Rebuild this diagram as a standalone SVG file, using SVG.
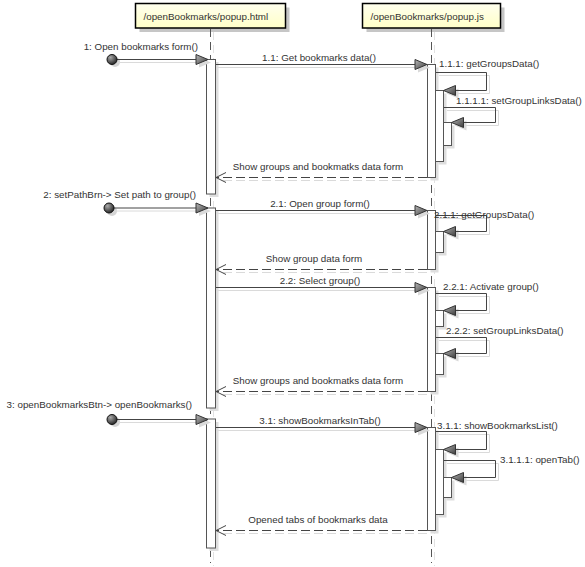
<svg xmlns="http://www.w3.org/2000/svg" xmlns:xlink="http://www.w3.org/1999/xlink" width="585" height="567" viewBox="0 0 585 567">
<style>
.lbl{font-family:"Liberation Sans",Arial,sans-serif;font-size:9.8px;fill:#333}
.mid{text-anchor:middle}
.end{text-anchor:end}
.msg{stroke:#444;stroke-width:1;fill:none}
.ret{stroke:#444;stroke-width:1;fill:none;stroke-dasharray:9,4}
.sh{stroke:#dadada;stroke-width:1;fill:none}
.shr{stroke:#dadada;stroke-width:1;fill:none;stroke-dasharray:9,4}
.bar{fill:#fff;stroke:#555;stroke-width:1}
.barsh{fill:#dedede;stroke:none}
.life{stroke:#555;stroke-width:1;stroke-dasharray:8,5;fill:none}
.lifesh{stroke:#e2e2e2;stroke-width:1;stroke-dasharray:8,5;fill:none}
.head{fill:url(#gY);stroke:#000;stroke-width:1.5}
.headsh{fill:#c6c6c6}
.tri{fill:url(#gA);stroke:#333;stroke-width:1}
.trish{fill:#dadada;stroke:none}
.open{fill:none;stroke:#444;stroke-width:1}
.dot{fill:url(#gD);stroke:#111;stroke-width:1}
.dotsh{fill:#d5d5d5}
</style>
<defs>
<linearGradient id="gY" x1="0" y1="0" x2="0" y2="1">
<stop offset="0" stop-color="#ffffee"/>
<stop offset="1" stop-color="#ffffc8"/>
</linearGradient>
<linearGradient id="gA" x1="0" y1="0" x2="1" y2="1">
<stop offset="0" stop-color="#b8b8b8"/>
<stop offset="1" stop-color="#3c3c3c"/>
</linearGradient>
<radialGradient id="gD" cx="0.35" cy="0.3" r="0.7">
<stop offset="0" stop-color="#aaaaaa"/>
<stop offset="1" stop-color="#2a2a2a"/>
</radialGradient>
<path id="aR" d="M0,0 L-12,-5 L-12,5 Z"/>
<path id="aL" d="M0,0 L12,-5 L12,5 Z"/>
<path id="oL" d="M10,-5 L0,0 L10,5"/>
</defs>
<rect width="585" height="567" fill="#fff"/>

<g id="node-popup-html">
<rect class="headsh" x="139.5" y="7.5" width="150" height="24.5"/>
<rect class="head" x="135.5" y="3.5" width="150" height="24.5"/>
<text class="lbl" x="143.5" y="19.5">/openBookmarks/popup.html</text>
<line class="lifesh" x1="213.5" y1="32" x2="213.5" y2="566"/>
<line class="life" x1="210.5" y1="29" x2="210.5" y2="563"/>
<rect class="barsh" x="209.5" y="62" width="9" height="135"/>
<rect class="bar" x="206.5" y="59.5" width="9" height="134.5"/>
<rect class="barsh" x="209.5" y="211" width="9" height="200"/>
<rect class="bar" x="206.5" y="208" width="9" height="200"/>
<rect class="barsh" x="209.5" y="422" width="9" height="129"/>
<rect class="bar" x="206.5" y="419" width="9" height="129"/>
</g>

<g id="node-popup-js">
<rect class="headsh" x="366.5" y="7.5" width="138" height="24.5"/>
<rect class="head" x="362.5" y="3.5" width="138" height="24.5"/>
<text class="lbl" x="370.5" y="19.5">/openBookmarks/popup.js</text>
<line class="lifesh" x1="434.5" y1="32" x2="434.5" y2="566"/>
<line class="life" x1="431.5" y1="29" x2="431.5" y2="563"/>
<rect class="barsh" x="430.5" y="67.5" width="8" height="113"/>
<rect class="bar" x="427.5" y="64.5" width="8" height="113"/>
<rect class="barsh" x="438.5" y="93.5" width="8" height="71"/>
<rect class="bar" x="435.5" y="90.5" width="8" height="71"/>
<rect class="barsh" x="446.5" y="125.5" width="8" height="23"/>
<rect class="bar" x="443.5" y="122.5" width="8" height="23"/>
<rect class="barsh" x="430.5" y="213.5" width="8" height="59"/>
<rect class="bar" x="427.5" y="210.5" width="8" height="59"/>
<rect class="barsh" x="438.5" y="234.5" width="8" height="21"/>
<rect class="bar" x="435.5" y="231.5" width="8" height="21"/>
<rect class="barsh" x="430.5" y="290.5" width="8" height="104"/>
<rect class="bar" x="427.5" y="287.5" width="8" height="104"/>
<rect class="barsh" x="438.5" y="313.5" width="8" height="16"/>
<rect class="bar" x="435.5" y="310.5" width="8" height="16"/>
<rect class="barsh" x="438.5" y="356.5" width="8" height="21"/>
<rect class="bar" x="435.5" y="353.5" width="8" height="21"/>
<rect class="barsh" x="430.5" y="430.5" width="8" height="103"/>
<rect class="bar" x="427.5" y="427.5" width="8" height="103"/>
<rect class="barsh" x="438.5" y="452.5" width="8" height="65"/>
<rect class="bar" x="435.5" y="449.5" width="8" height="65"/>
<rect class="barsh" x="446.5" y="480.5" width="8" height="20"/>
<rect class="bar" x="443.5" y="477.5" width="8" height="20"/>
</g>

<g id="connectors">
<g id="msg-1">
<circle class="dotsh" cx="115" cy="62" r="5"/>
<line class="sh" x1="117" y1="62.5" x2="196" y2="62.5"/>
<use href="#aR" class="trish" x="211" y="62.5"/>
<line class="msg" x1="112" y1="59.5" x2="196" y2="59.5"/>
<circle class="dot" cx="112" cy="59.5" r="5"/>
<use href="#aR" class="tri" x="208" y="59.5"/>
<text class="lbl end" x="198" y="50">1: Open bookmarks form()</text>
</g>
<g id="msg-1.1">
<line class="sh" x1="216" y1="67.5" x2="420" y2="67.5"/>
<use href="#aR" class="trish" x="430" y="67.5"/>
<line class="msg" x1="216" y1="64.5" x2="416" y2="64.5"/>
<use href="#aR" class="tri" x="427" y="64.5"/>
<text class="lbl mid" x="319" y="61">1.1: Get bookmarks data()</text>
</g>
<g id="msg-1.1.1">
<polyline class="sh" points="439,75.5 489.5,75.5 489.5,93.5 458,93.5"/>
<use href="#aL" class="trish" x="446.5" y="93.5"/>
<polyline class="msg" points="436,72.5 486.5,72.5 486.5,90.5 455.5,90.5"/>
<use href="#aL" class="tri" x="443.5" y="90.5"/>
<text class="lbl" x="439" y="67">1.1.1: getGroupsData()</text>
</g>
<g id="msg-1.1.1.1">
<polyline class="sh" points="447,110.5 498.5,110.5 498.5,125.5 466,125.5"/>
<use href="#aL" class="trish" x="454.5" y="125.5"/>
<polyline class="msg" points="444,107.5 495.5,107.5 495.5,122.5 463.5,122.5"/>
<use href="#aL" class="tri" x="451.5" y="122.5"/>
<text class="lbl" x="456" y="104">1.1.1.1: setGroupLinksData()</text>
</g>
<g id="ret-1">
<line class="shr" x1="427" y1="180.5" x2="219" y2="180.5"/>
<line class="ret" x1="427" y1="177.5" x2="216" y2="177.5"/>
<use href="#oL" class="open" x="216" y="177.5"/>
<text class="lbl mid" x="318" y="170">Show groups and bookmatks data form</text>
</g>

<g id="msg-2">
<circle class="dotsh" cx="112" cy="211" r="5"/>
<line class="sh" x1="114" y1="211" x2="196" y2="211"/>
<use href="#aR" class="trish" x="211" y="211"/>
<line class="msg" x1="109" y1="208" x2="196" y2="208"/>
<circle class="dot" cx="109" cy="208" r="5"/>
<use href="#aR" class="tri" x="208" y="208"/>
<text class="lbl end" x="196" y="198">2: setPathBrn-&gt; Set path to group()</text>
</g>
<g id="msg-2.1">
<line class="sh" x1="216" y1="213.5" x2="420" y2="213.5"/>
<use href="#aR" class="trish" x="430" y="213.5"/>
<line class="msg" x1="216" y1="210.5" x2="416" y2="210.5"/>
<use href="#aR" class="tri" x="427" y="210.5"/>
<text class="lbl mid" x="320" y="207">2.1: Open group form()</text>
</g>
<g id="msg-2.1.1">
<polyline class="sh" points="439,218.5 489.5,218.5 489.5,234.5 458,234.5"/>
<use href="#aL" class="trish" x="446.5" y="234.5"/>
<polyline class="msg" points="436,215.5 486.5,215.5 486.5,231.5 455.5,231.5"/>
<use href="#aL" class="tri" x="443.5" y="231.5"/>
<text class="lbl" x="434" y="218">2.1.1: getGroupsData()</text>
</g>
<g id="ret-2">
<line class="shr" x1="427" y1="272.5" x2="219" y2="272.5"/>
<line class="ret" x1="427" y1="269.5" x2="216" y2="269.5"/>
<use href="#oL" class="open" x="216" y="269.5"/>
<text class="lbl mid" x="314" y="262">Show group data form</text>
</g>
<g id="msg-2.2">
<line class="sh" x1="216" y1="290.5" x2="420" y2="290.5"/>
<use href="#aR" class="trish" x="430" y="290.5"/>
<line class="msg" x1="216" y1="287.5" x2="416" y2="287.5"/>
<use href="#aR" class="tri" x="427" y="287.5"/>
<text class="lbl mid" x="320" y="284">2.2: Select group()</text>
</g>
<g id="msg-2.2.1">
<polyline class="sh" points="439,296.5 489.5,296.5 489.5,313.5 458,313.5"/>
<use href="#aL" class="trish" x="446.5" y="313.5"/>
<polyline class="msg" points="436,293.5 486.5,293.5 486.5,310.5 455.5,310.5"/>
<use href="#aL" class="tri" x="443.5" y="310.5"/>
<text class="lbl" x="443" y="290">2.2.1: Activate group()</text>
</g>
<g id="msg-2.2.2">
<polyline class="sh" points="439,340.5 489.5,340.5 489.5,356.5 458,356.5"/>
<use href="#aL" class="trish" x="446.5" y="356.5"/>
<polyline class="msg" points="436,337.5 486.5,337.5 486.5,353.5 455.5,353.5"/>
<use href="#aL" class="tri" x="443.5" y="353.5"/>
<text class="lbl" x="446" y="334">2.2.2: setGroupLinksData()</text>
</g>
<g id="ret-3">
<line class="shr" x1="427" y1="394.5" x2="219" y2="394.5"/>
<line class="ret" x1="427" y1="391.5" x2="216" y2="391.5"/>
<use href="#oL" class="open" x="216" y="391.5"/>
<text class="lbl mid" x="318" y="384">Show groups and bookmatks data form</text>
</g>

<g id="msg-3">
<circle class="dotsh" cx="115" cy="422" r="5"/>
<line class="sh" x1="117" y1="422.5" x2="196" y2="422.5"/>
<use href="#aR" class="trish" x="211" y="422.5"/>
<line class="msg" x1="112" y1="419.5" x2="196" y2="419.5"/>
<circle class="dot" cx="112" cy="419.5" r="5"/>
<use href="#aR" class="tri" x="208" y="419.5"/>
<text class="lbl end" x="192" y="408">3: openBookmarksBtn-&gt; openBookmarks()</text>
</g>
<g id="msg-3.1">
<line class="sh" x1="216" y1="430.5" x2="420" y2="430.5"/>
<use href="#aR" class="trish" x="430" y="430.5"/>
<line class="msg" x1="216" y1="427.5" x2="416" y2="427.5"/>
<use href="#aR" class="tri" x="427" y="427.5"/>
<text class="lbl mid" x="320" y="424">3.1: showBookmarksInTab()</text>
</g>
<g id="msg-3.1.1">
<polyline class="sh" points="439,434.5 489.5,434.5 489.5,452.5 458,452.5"/>
<use href="#aL" class="trish" x="446.5" y="452.5"/>
<polyline class="msg" points="436,431.5 486.5,431.5 486.5,449.5 455.5,449.5"/>
<use href="#aL" class="tri" x="443.5" y="449.5"/>
<text class="lbl" x="437" y="429">3.1.1: showBookmarksList()</text>
</g>
<g id="msg-3.1.1.1">
<polyline class="sh" points="447,463.5 498.5,463.5 498.5,480.5 466,480.5"/>
<use href="#aL" class="trish" x="454.5" y="480.5"/>
<polyline class="msg" points="444,460.5 495.5,460.5 495.5,477.5 463.5,477.5"/>
<use href="#aL" class="tri" x="451.5" y="477.5"/>
<text class="lbl" x="500" y="463">3.1.1.1: openTab()</text>
</g>
<g id="ret-4">
<line class="shr" x1="427" y1="533.5" x2="219" y2="533.5"/>
<line class="ret" x1="427" y1="530.5" x2="216" y2="530.5"/>
<use href="#oL" class="open" x="216" y="530.5"/>
<text class="lbl mid" x="318" y="523">Opened tabs of bookmarks data</text>
</g>
</g>
</svg>
